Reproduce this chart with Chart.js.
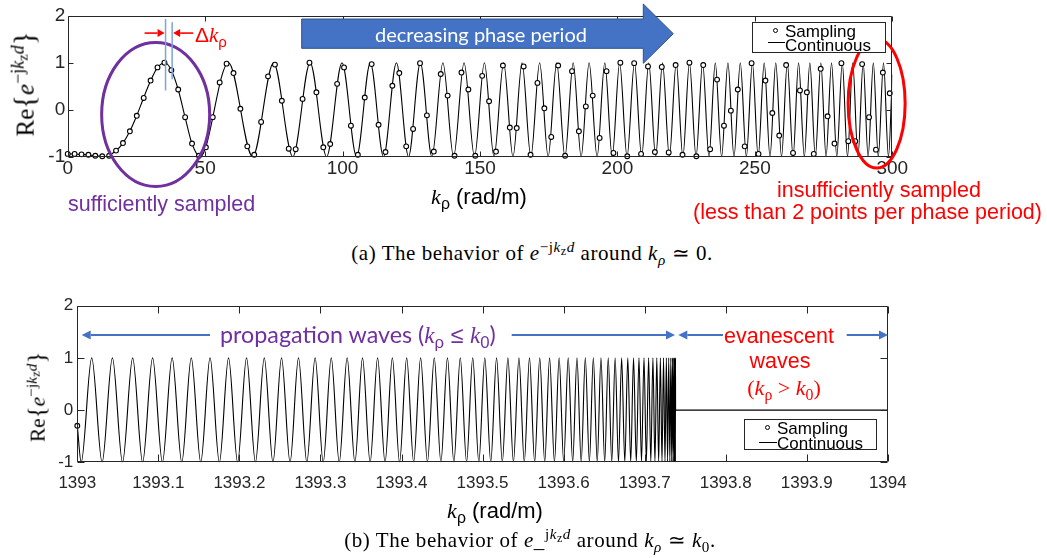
<!DOCTYPE html>
<html>
<head>
<meta charset="utf-8">
<title>Sampling of e^-jkzd</title>
<script src="https://cdn.jsdelivr.net/npm/chart.js@4.4.1/dist/chart.umd.min.js"></script>
<style>
  html, body { margin: 0; padding: 0; background: #fff; }
  #wrap { position: relative; width: 1047px; height: 558px; overflow: hidden; font-family: "Liberation Sans", Arial, sans-serif; color: #000; }
  canvas { position: absolute; left: 0; }
  #topChart { top: 0; }
  #bottomChart { top: 290px; }
  .t { position: absolute; white-space: nowrap; line-height: 1; }
  .c { transform: translate(-50%, -50%); }
  .l { transform: translateY(-50%); }
  .serif, .t i { font-family: "Liberation Serif", "Times New Roman", serif; }
  sup, sub { font-size: 0.72em; line-height: 0; position: relative; vertical-align: baseline; }
  sup { top: -0.55em; }
  sub { top: 0.3em; }
  sup sub { font-size: 0.8em; }
  .ylab { transform: translate(-50%, -50%) rotate(-90deg); }
  .br { font-size: 1.15em; }
  .box { position: absolute; background: #fff; border: 1px solid #262626; box-sizing: border-box; }
  .dot { position: absolute; width: 5px; height: 5px; border: 1.2px solid #000; border-radius: 50%; box-sizing: border-box; background: #fff; }
  .ln { position: absolute; height: 0; border-top: 1px solid #000; }
  .leg { font-size: 17px; }
  .cap { font-size: 21px; letter-spacing: 0.55px; }
  .purple { color: #7030A0; }
  .red { color: #FF0000; }
  .calibri { font-family: Lato, "Open Sans", sans-serif; }
</style>
</head>
<body>
<div id="wrap">
  <canvas id="topChart" width="1047" height="190"></canvas>
  <canvas id="bottomChart" width="1047" height="220"></canvas>

  <!-- (a) -->
  <div class="t ylab serif" style="left:24px;top:84px;font-size:25px">Re<span class="br">{</span><i>e</i><sup>−j<i>k</i><sub>z</sub><i>d</i></sup><span class="br">}</span></div>
  <div class="t c" style="left:479px;top:197px;font-size:22px"><i>k</i><sub>ρ</sub> (rad/m)</div>
  <div class="t l red" style="left:195px;top:35px;font-size:21px">Δ<i>k</i><sub>ρ</sub></div>
  <div class="t c calibri" style="left:481px;top:34px;font-size:20px;color:#fff">decreasing phase period</div>
  <div class="t l purple" style="left:68px;top:205px;font-size:21.5px">sufficiently sampled</div>
  <div class="t l red" style="left:777px;top:191px;font-size:21.5px">insufficiently sampled</div>
  <div class="t l red" style="left:693px;top:213px;font-size:21.5px">(less than 2 points per phase period)</div>
  <div class="box" style="left:752px;top:22px;width:134px;height:31px"></div>
  <div class="dot" style="left:772.5px;top:27.5px"></div>
  <div class="t l leg" style="left:785px;top:31px">Sampling</div>
  <div class="ln" style="left:768px;top:41.5px;width:17px"></div>
  <div class="t l leg" style="left:785px;top:45px">Continuous</div>
  <div class="t c serif cap" style="left:532px;top:253px">(a) The behavior of <i>e</i><sup>−j<i>k</i><sub>z</sub><i>d</i></sup> around <i>k<sub>ρ</sub></i> ≃ 0.</div>

  <!-- (b) -->
  <div class="t ylab serif" style="left:37px;top:397px;font-size:21.5px">Re<span class="br">{</span><i>e</i><sup>−j<i>k</i><sub>z</sub><i>d</i></sup><span class="br">}</span></div>
  <div class="t c" style="left:495px;top:511px;font-size:22px"><i>k</i><sub>ρ</sub> (rad/m)</div>
  <div class="t l purple" style="left:220px;top:335px;font-size:23.3px"><span class="calibri">propagation waves (</span><i>k</i><sub>ρ</sub> ≤ <i>k</i><sub>0</sub><span class="calibri">)</span></div>
  <div class="t c red" style="left:779px;top:337px;font-size:21.5px">evanescent</div>
  <div class="t c red" style="left:780px;top:362px;font-size:21.5px">waves</div>
  <div class="t c red serif" style="left:784px;top:388px;font-size:22px">(<i>k</i><sub>ρ</sub> &gt; <i>k</i><sub>0</sub>)</div>
  <div class="box" style="left:744px;top:419px;width:133px;height:31px"></div>
  <div class="dot" style="left:765px;top:424.5px"></div>
  <div class="t l leg" style="left:777px;top:427.5px">Sampling</div>
  <div class="ln" style="left:759px;top:441.5px;width:18px"></div>
  <div class="t l leg" style="left:777px;top:443px">Continuous</div>
  <div class="t c serif cap" style="left:530px;top:540px">(b) The behavior of <i>e</i>_<sup>j<i>k</i><sub>z</sub><i>d</i></sup> around <i>k<sub>ρ</sub></i> ≃ <i>k</i><sub>0</sub>.</div>
</div>

<script>
// ---- data ----

// (a) sampled points, kρ in rad/m
const topSampleK = [0, 2.51, 5.03, 7.54, 10.05, 12.57, 15.08, 17.59, 20.11, 22.62,
  25.13, 27.65, 30.16, 32.67, 35.19, 37.70, 40.21, 42.73, 45.24, 47.75,
  50.27, 52.78, 55.29, 57.81, 60.32, 62.83, 65.35, 67.86, 70.37, 72.88,
  75.40, 77.91, 80.42, 82.94, 85.45, 87.96, 90.48, 92.99, 95.50, 98.02,
  100.53, 103.04, 105.56, 108.07, 110.58, 113.10, 115.61, 118.12, 120.64, 123.15,
  125.66, 128.18, 130.69, 133.20, 135.72, 138.23, 140.74, 143.26, 145.77, 148.28,
  150.80, 153.31, 155.82, 158.34, 160.85, 163.36, 165.88, 168.39, 170.90, 173.42,
  175.93, 178.44, 180.96, 183.47, 185.98, 188.50, 191.01, 193.52, 196.04, 198.55,
  201.06, 203.58, 206.09, 208.60, 211.12, 213.63, 216.14, 218.65, 221.17, 223.68,
  226.19, 228.71, 231.22, 233.73, 236.25, 238.76, 241.27, 243.79, 246.30, 248.81,
  251.33, 253.84, 256.35, 258.87, 261.38, 263.89, 266.41, 268.92, 271.43, 273.95,
  276.46, 278.97, 281.49, 284.00, 286.51, 289.03, 291.54, 294.05, 296.57, 299.08];
const topSampleValue = [-0.94, -0.94, -0.95, -0.96, -0.98, -0.99, -0.98, -0.87, -0.71, -0.46,
  -0.13, 0.25, 0.62, 0.90, 1.00, 0.84, 0.43, -0.16, -0.72, -0.98,
  -0.80, -0.16, 0.58, 0.98, 0.78, 0.02, -0.78, -0.96, -0.26, 0.71,
  0.96, 0.19, -0.83, -0.84, 0.23, 1.00, 0.37, -0.80, -0.73, 0.55,
  0.90, -0.34, -0.96, 0.26, 0.97, -0.32, -0.90, 0.51, 0.78, -0.78,
  -0.41, 0.99, -0.12, -0.89, 0.76, 0.30, -0.98, 0.79, 0.43, -0.98,
  0.72, 0.18, -0.89, 0.94, -0.38, -0.39, 0.92, -0.96, 0.57, 0.03,
  -0.58, 0.94, -0.98, 0.82, -0.46, 0.07, 0.30, -0.60, 0.82, -0.92,
  1.00, -0.99, 0.99, -0.94, 0.92, -0.90, 0.91, -0.91, 0.95, -0.96,
  1.00, -0.99, 0.95, -0.84, 0.64, -0.34, -0.02, 0.43, -0.78, 0.99,
  -0.94, 0.62, -0.07, -0.55, 0.95, -0.92, 0.41, 0.37, -0.94, 0.87,
  -0.14, -0.72, 0.99, -0.67, -0.67, 0.97, -0.16, -0.85, 0.79, 0.35];

// (a) continuous curve: first lobe read point by point, then crest / trough positions
const topLeadK = [0, 5, 10, 13.7, 17.6, 20.1, 22.6, 25.1, 27.6, 30.2, 32.7, 35.4, 37.7, 40.2, 42.7, 45.2];
const topLeadValue = [-0.94, -0.95, -0.98, -1, -0.87, -0.71, -0.46, -0.13, 0.25, 0.62, 0.90, 1, 0.84, 0.43, -0.16, -0.72];
const topPeakK = [58.5, 74.9, 88.2, 99.8, 110.1, 119.6, 128.3, 136.5, 144.2, 151.6,
  158.6, 165.3, 171.7, 177.9, 183.9, 189.7, 195.4, 200.8, 206.2, 211.4,
  216.4, 221.4, 226.2, 231.0, 235.6, 240.2, 244.7, 249.1, 253.4, 257.6,
  261.8, 265.9, 270.0, 274.0, 277.9, 281.8, 285.6, 289.4, 293.1, 296.8];
const topTroughK = [48.2, 67.3, 81.9, 94.2, 105.1, 114.9, 124.0, 132.5, 140.4, 148.0,
  155.1, 162.0, 168.5, 174.8, 180.9, 186.8, 192.6, 198.1, 203.5, 208.8,
  213.9, 218.9, 223.8, 228.6, 233.3, 237.9, 242.4, 246.9, 251.2, 255.5,
  259.7, 263.9, 268.0, 272.0, 275.9, 279.8, 283.7, 287.5, 291.2, 294.9, 298.6];
const topEndK = [300];
const topEndValue = [0.75];

// (b) continuous curve around k0: crest / trough positions, then flat evanescent part
const bottomStartK = [1393];
const bottomStartValue = [-0.3];
const bottomPeakK = [1393.0178, 1393.0433, 1393.0683, 1393.0929, 1393.1170, 1393.1406, 1393.1638, 1393.1866, 1393.2088, 1393.2307,
  1393.2520, 1393.2729, 1393.2934, 1393.3133, 1393.3329, 1393.3519, 1393.3705, 1393.3887, 1393.4064, 1393.4236,
  1393.4404, 1393.4567, 1393.4725, 1393.4879, 1393.5028, 1393.5173, 1393.5313, 1393.5449, 1393.5579, 1393.5706,
  1393.5827, 1393.5945, 1393.6057, 1393.6165, 1393.6268, 1393.6367, 1393.6461, 1393.6551, 1393.6636, 1393.6716,
  1393.6792, 1393.6863, 1393.6930, 1393.6992, 1393.7049, 1393.7102, 1393.7150, 1393.7194, 1393.7233, 1393.7268,
  1393.7297, 1393.7323, 1393.7343, 1393.7359, 1393.7371, 1393.7378, 1393.7380];
const bottomTroughK = [1393.0048, 1393.0306, 1393.0558, 1393.0806, 1393.1050, 1393.1289, 1393.1523, 1393.1753, 1393.1978, 1393.2198,
  1393.2414, 1393.2625, 1393.2832, 1393.3034, 1393.3232, 1393.3425, 1393.3613, 1393.3797, 1393.3976, 1393.4150,
  1393.4320, 1393.4486, 1393.4646, 1393.4803, 1393.4954, 1393.5101, 1393.5244, 1393.5381, 1393.5515, 1393.5643,
  1393.5767, 1393.5887, 1393.6001, 1393.6112, 1393.6217, 1393.6318, 1393.6415, 1393.6507, 1393.6594, 1393.6677,
  1393.6755, 1393.6828, 1393.6897, 1393.6961, 1393.7021, 1393.7076, 1393.7127, 1393.7173, 1393.7214, 1393.7251,
  1393.7283, 1393.7311, 1393.7334, 1393.7352, 1393.7366, 1393.7375, 1393.7379];
const bottomFlatK = [1393.7382, 1394];
const bottomSampleK = [1393];
const bottomSampleValue = [-0.3];

// axes
const topTickValues = [0, 50, 100, 150, 200, 250, 300];
const topTickLabels = ['0', '50', '100', '150', '200', '250', '300'];
const bottomTickValues = [1393, 1393.1, 1393.2, 1393.3, 1393.4, 1393.5, 1393.6, 1393.7, 1393.8, 1393.9, 1394];
const bottomTickLabels = ['1393', '1393.1', '1393.2', '1393.3', '1393.4', '1393.5', '1393.6', '1393.7', '1393.8', '1393.9', '1394'];
const yTickValues = [-1, 0, 1, 2];
const yTickLabels = ['-1', '0', '1', '2'];

// ---- helpers ----
function zip(ks, vs) { return ks.map((k, i) => ({ x: k, y: vs[i] })); }
function buildCurve(parts) {
  const pts = [];
  parts.forEach(([ks, vals]) => ks.forEach((k, i) => pts.push({ x: k, y: Array.isArray(vals) ? vals[i] : vals })));
  return pts.sort((a, b) => a.x - b.x);
}

function arrow(ctx, x1, y1, x2, y2, color, lw, hl, hw) {
  const a = Math.atan2(y2 - y1, x2 - x1);
  const bx = x2 - hl * Math.cos(a), by = y2 - hl * Math.sin(a);
  ctx.save();
  ctx.strokeStyle = color; ctx.fillStyle = color; ctx.lineWidth = lw;
  ctx.beginPath(); ctx.moveTo(x1, y1); ctx.lineTo(bx, by); ctx.stroke();
  ctx.beginPath();
  ctx.moveTo(x2, y2);
  ctx.lineTo(bx + hw * Math.sin(a), by - hw * Math.cos(a));
  ctx.lineTo(bx - hw * Math.sin(a), by + hw * Math.cos(a));
  ctx.closePath(); ctx.fill();
  ctx.restore();
}

// matlab-like box with inward ticks on all four sides
function framePlugin(len) {
  return {
    id: 'frame',
    afterDatasetsDraw(chart) {
      const { ctx, chartArea: a, scales: { x, y } } = chart;
      const L = Math.round(a.left) + 0.5, R = Math.round(a.right) - 0.5;
      const T = Math.round(a.top) + 0.5, B = Math.round(a.bottom) - 0.5;
      ctx.save();
      ctx.strokeStyle = '#262626';
      ctx.lineWidth = 1;
      ctx.beginPath();
      ctx.rect(L, T, R - L, B - T);
      x.ticks.forEach(t => {
        const px = Math.round(x.getPixelForValue(t.value)) + 0.5;
        ctx.moveTo(px, B); ctx.lineTo(px, B - len);
        ctx.moveTo(px, T); ctx.lineTo(px, T + len);
      });
      y.ticks.forEach(t => {
        const py = Math.round(y.getPixelForValue(t.value)) + 0.5;
        ctx.moveTo(L, py); ctx.lineTo(L + len, py);
        ctx.moveTo(R, py); ctx.lineTo(R - len, py);
      });
      ctx.stroke();
      ctx.restore();
    }
  };
}

const tickFont = size => ({ family: '"Liberation Sans", Arial, sans-serif', size, lineHeight: 1 });

function makeChart(id, c) {
  return new Chart(document.getElementById(id), {
    type: 'scatter',
    data: {
      datasets: [
        { label: 'Continuous', type: 'line', data: c.curve, borderColor: '#000', borderWidth: 1.1,
          pointRadius: 0, pointHitRadius: 0, cubicInterpolationMode: 'monotone', fill: false, order: 1 },
        { label: 'Sampling', data: c.samples, pointRadius: 2.4, pointBorderWidth: 1.1,
          pointBorderColor: '#000', pointBackgroundColor: '#fff', clip: false, order: 0 }
      ]
    },
    options: {
      responsive: false, animation: false, devicePixelRatio: 1,
      layout: { padding: c.pad },
      plugins: { legend: { display: false }, tooltip: { enabled: false } },
      events: [],
      scales: {
        x: {
          type: 'linear', min: c.xMin, max: c.xMax,
          afterFit: s => { s.height = c.xSpace; },
          afterBuildTicks: s => { s.ticks = c.xTicks.map(v => ({ value: v })); },
          ticks: { callback: (v, i) => c.xLabels[i], font: tickFont(c.fontSize), color: '#262626',
            padding: c.xPad, autoSkip: false, maxRotation: 0, minRotation: 0 },
          grid: { display: false, drawTicks: false }, border: { display: false }
        },
        y: {
          min: -1, max: 2,
          afterFit: s => { s.width = c.ySpace; },
          afterBuildTicks: s => { s.ticks = yTickValues.map(v => ({ value: v })); },
          ticks: { callback: (v, i) => yTickLabels[i], font: tickFont(c.fontSize), color: '#262626',
            padding: c.yPad, autoSkip: false },
          grid: { display: false, drawTicks: false }, border: { display: false }
        }
      }
    },
    plugins: [framePlugin(c.tickLen), c.notes]
  });
}

// ---- (a) ----
makeChart('topChart', {
  curve: buildCurve([[topLeadK, topLeadValue], [topPeakK, 1], [topTroughK, -1], [topEndK, topEndValue]]),
  samples: zip(topSampleK, topSampleValue),
  xMin: 0, xMax: 300, xTicks: topTickValues, xLabels: topTickLabels,
  pad: { left: 0, right: 154.7, top: 15.7, bottom: 0 },
  ySpace: 67.7, xSpace: 33.3,
  fontSize: 19, xPad: 3, yPad: 2.5, tickLen: 5,
  notes: {
    id: 'notesTop',
    afterDraw(chart) {
      const { ctx, scales: { x, y } } = chart;
      ctx.save();
      // sufficiently / insufficiently sampled regions
      ctx.lineWidth = 3;
      ctx.strokeStyle = '#7030A0';
      ctx.beginPath(); ctx.ellipse(x.getPixelForValue(32), y.getPixelForValue(-0.1), 54, 72, 0, 0, Math.PI * 2); ctx.stroke();
      ctx.strokeStyle = '#FF0000';
      ctx.beginPath(); ctx.ellipse(x.getPixelForValue(294.3), y.getPixelForValue(0.13), 28.5, 64.5, 0, 0, Math.PI * 2); ctx.stroke();
      // delta k markers
      ctx.strokeStyle = '#7FA3DA'; ctx.lineWidth = 1.5;
      const l1 = x.getPixelForValue(35.6), l2 = x.getPixelForValue(38.0);
      ctx.beginPath();
      ctx.moveTo(l1, y.getPixelForValue(1.93)); ctx.lineTo(l1, y.getPixelForValue(0.41));
      ctx.moveTo(l2, y.getPixelForValue(1.86)); ctx.lineTo(l2, y.getPixelForValue(0.65));
      ctx.stroke();
      const ay = y.getPixelForValue(1.63);
      arrow(ctx, l1 - 21, ay, l1 - 1, ay, '#FF0000', 1.6, 7, 4);
      arrow(ctx, l2 + 21, ay, l2 + 1, ay, '#FF0000', 1.6, 7, 4);
      // block arrow
      ctx.fillStyle = '#4472C4'; ctx.strokeStyle = '#2F528F'; ctx.lineWidth = 1;
      ctx.beginPath();
      ctx.moveTo(301.7, 19); ctx.lineTo(643.3, 19); ctx.lineTo(643.3, 4); ctx.lineTo(673.3, 33.7);
      ctx.lineTo(643.3, 63.3); ctx.lineTo(643.3, 48.3); ctx.lineTo(301.7, 48.3); ctx.closePath();
      ctx.fill(); ctx.stroke();
      ctx.restore();
    }
  }
});

// ---- (b) ----
makeChart('bottomChart', {
  curve: buildCurve([[bottomStartK, bottomStartValue], [bottomPeakK, 1], [bottomTroughK, -1], [bottomFlatK, 0]]),
  samples: zip(bottomSampleK, bottomSampleValue),
  xMin: 1393, xMax: 1394, xTicks: bottomTickValues, xLabels: bottomTickLabels,
  pad: { left: 0, right: 159.2, top: 15.7, bottom: 0 },
  ySpace: 77.3, xSpace: 47.7,
  fontSize: 17, xPad: 13, yPad: 4, tickLen: 7,
  notes: {
    id: 'notesBottom',
    afterDraw(chart) {
      const { ctx } = chart;
      const c = '#4472C4', ay = 45;
      arrow(ctx, 210, ay, 81.7, ay, c, 1.8, 9, 4.5);
      arrow(ctx, 511.7, ay, 675, ay, c, 1.8, 9, 4.5);
      arrow(ctx, 723, ay, 678.3, ay, c, 1.8, 9, 4.5);
      arrow(ctx, 846.7, ay, 888, ay, c, 1.8, 9, 4.5);
    }
  }
});
</script>
</body>
</html>
